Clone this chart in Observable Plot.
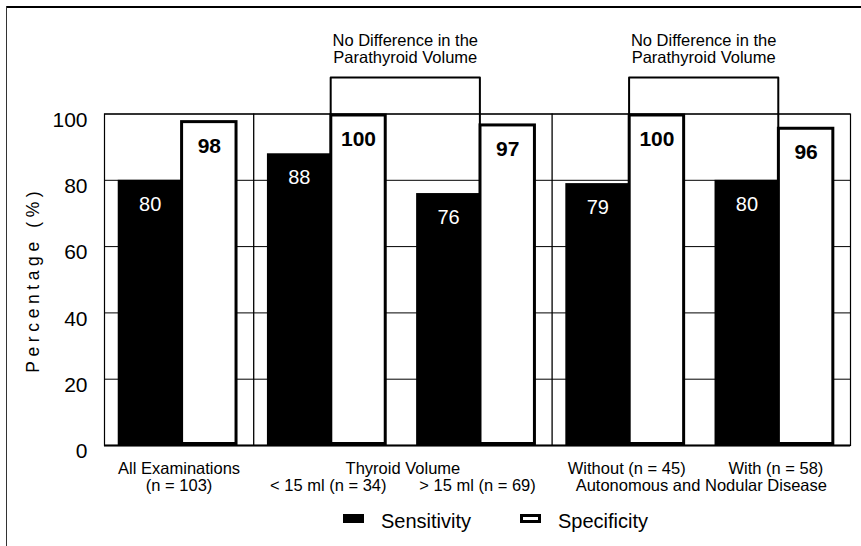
<!DOCTYPE html>
<html>
<head>
<meta charset="utf-8">
<script src="https://cdn.jsdelivr.net/npm/d3@7"></script>
<script src="https://cdn.jsdelivr.net/npm/@observablehq/plot@0.6"></script>
<style>
  body { margin: 0; background: #fff; font-family: "Liberation Sans", Arial, sans-serif; }
  #wrap { position: relative; width: 861px; height: 546px; overflow: hidden; background: #fff; }
  #chart { position: absolute; left: 0; top: 0; }
  #borderTop { position: absolute; left: 6px; top: 6px; width: 855px; height: 0; border-top: 2px solid #000; }
  #borderLeft { position: absolute; left: 6px; top: 6px; width: 0; height: 540px; border-left: 1px solid #333; }
  .sw { position: absolute; top: 514px; width: 21px; height: 9px; box-sizing: border-box; }
  .lt { position: absolute; top: 511px; font-size: 20px; line-height: 20px; color: #000; white-space: nowrap; }
</style>
</head>
<body>
<div id="wrap">
  <div id="chart"></div>
  <div id="borderTop"></div>
  <div id="borderLeft"></div>
  <div id="legend"></div>
</div>
<script>
// ---------------- data ----------------
const categories = ["All Examinations", "< 15 ml", "> 15 ml", "Without", "With"];
const sensitivity = [80, 88, 76, 79, 80];
const specificity = [98, 100, 97, 100, 96];
const seriesNames = ["Sensitivity", "Specificity"];
const yTicks = [0, 20, 40, 60, 80, 100];
const groups = [
  ["All Examinations"],
  ["< 15 ml", "> 15 ml"],
  ["Without", "With"]
];
const labelsLine1 = [
  {text: "All Examinations", over: ["All Examinations"]},
  {text: "Thyroid Volume", over: ["< 15 ml", "> 15 ml"]},
  {text: "Without (n = 45)", over: ["Without"]},
  {text: "With (n = 58)", over: ["With"]}
];
const labelsLine2 = [
  {text: "(n = 103)", over: ["All Examinations"]},
  {text: "< 15 ml (n = 34)", over: ["< 15 ml"]},
  {text: "> 15 ml (n = 69)", over: ["> 15 ml"]},
  {text: "Autonomous and Nodular Disease", over: ["Without", "With"]}
];
const comparisons = [
  {from: "< 15 ml", to: "> 15 ml", label: "No Difference in the\nParathyroid Volume"},
  {from: "Without", to: "With", label: "No Difference in the\nParathyroid Volume"}
];
const yLabel = "Percentage (%)";

// ---------------- layout helpers ----------------
const SENS = [0.092, 0.52];   // fraction of category band
const SPEC = [0.51, 0.895];
const LEVEL = 111;            // bracket level (y units)
const idx = c => categories.indexOf(c);
const center = list => (d3.min(list, idx) + d3.max(list, idx) + 1) / 2;

const sensData = categories.map((c, i) => ({c, i, v: sensitivity[i]}));
const specData = categories.map((c, i) => ({c, i, v: specificity[i]}));

const dividers = [];
let acc = 0;
groups.forEach((g, k) => { acc += g.length; if (k < groups.length - 1) dividers.push(acc); });

const bracketPts = [];
comparisons.forEach((cmp, k) => {
  const a = idx(cmp.from), b = idx(cmp.to);
  const xa = a + SPEC[0] + 0.006, xb = b + SPEC[0] + 0.006;
  bracketPts.push({k, x: xa, y: specificity[a]});
  bracketPts.push({k, x: xa, y: LEVEL});
  bracketPts.push({k, x: xb, y: LEVEL});
  bracketPts.push({k, x: xb, y: specificity[b]});
});

const font = "Liberation Sans";

const plot = Plot.plot({
  width: 861,
  height: 500,
  marginLeft: 104,
  marginRight: 11,
  marginTop: 113.5,
  marginBottom: 55,
  style: {background: "transparent", color: "#000", fontFamily: font},
  x: {domain: [0, categories.length], axis: null},
  y: {domain: [0, 100], axis: null},
  marks: [
    Plot.ruleY(yTicks, {stroke: "#000", strokeWidth: 1}),
    Plot.ruleX(dividers, {y1: 0, y2: 100, stroke: "#000", strokeWidth: 1.3}),
    Plot.frame({stroke: "#000", strokeWidth: 1.2}),
    Plot.rectY(sensData, {
      x1: d => d.i + SENS[0], x2: d => d.i + SENS[1], y: "v", fill: "#000"
    }),
    Plot.rectY(specData, {
      x1: d => d.i + SPEC[0], x2: d => d.i + SPEC[1], y: "v",
      fill: "#fff", stroke: "#000", strokeWidth: 3, inset: 1.5
    }),
    Plot.ruleY([0], {stroke: "#000", strokeWidth: 2}),
    Plot.line(bracketPts, {x: "x", y: "y", z: "k", stroke: "#000", strokeWidth: 2}),
    Plot.text(sensData, {
      x: d => d.i + (SENS[0] + SENS[1]) / 2, y: "v", text: d => String(d.v),
      fill: "#fff", fontSize: 20, lineAnchor: "top", dy: 16
    }),
    Plot.text(specData, {
      x: d => d.i + (SPEC[0] + SPEC[1]) / 2, y: "v", text: d => String(d.v),
      fill: "#000", fontSize: 21, fontWeight: "bold", lineAnchor: "top", dy: 17
    }),
    Plot.text(comparisons, {
      x: d => (idx(d.from) + idx(d.to)) / 2 + SPEC[0] + 0.006, y: () => LEVEL,
      text: "label", fontSize: 16.5, lineHeight: 1.03, lineAnchor: "top", dy: -44, fill: "#000"
    }),
    Plot.axisY(yTicks, {
      tickSize: 0, tickPadding: 17, fontSize: 21, dy: 6, label: null, fill: "#000"
    }),
    Plot.text([yLabel], {
      text: d => d, frameAnchor: "left", textAnchor: "middle", lineAnchor: "middle",
      rotate: -90, dx: -71, fontSize: 17.5, fill: "#000"
    }),
    Plot.text(labelsLine1, {
      x: d => center(d.over), text: "text", frameAnchor: "bottom",
      lineAnchor: "top", dy: 17, fontSize: 16.5, fill: "#000"
    }),
    Plot.text(labelsLine2, {
      x: d => center(d.over), text: "text", frameAnchor: "bottom",
      lineAnchor: "top", dy: 34, fontSize: 16.5, fill: "#000"
    })
  ]
});

d3.select(plot).selectAll("text").filter(function() { return this.textContent === yLabel; })
  .attr("letter-spacing", "4.6px");

document.getElementById("chart").appendChild(plot);

// ---------------- legend ----------------
const legend = document.getElementById("legend");
const legendLeft = [343, 520];
seriesNames.forEach((name, k) => {
  const sw = document.createElement("div");
  sw.className = "sw";
  sw.style.left = legendLeft[k] + "px";
  if (k === 0) { sw.style.background = "#000"; }
  else { sw.style.background = "#fff"; sw.style.border = "3px solid #000"; }
  legend.appendChild(sw);
  const t = document.createElement("span");
  t.className = "lt";
  t.style.left = (legendLeft[k] + 38) + "px";
  t.textContent = name;
  legend.appendChild(t);
});
</script>
</body>
</html>
